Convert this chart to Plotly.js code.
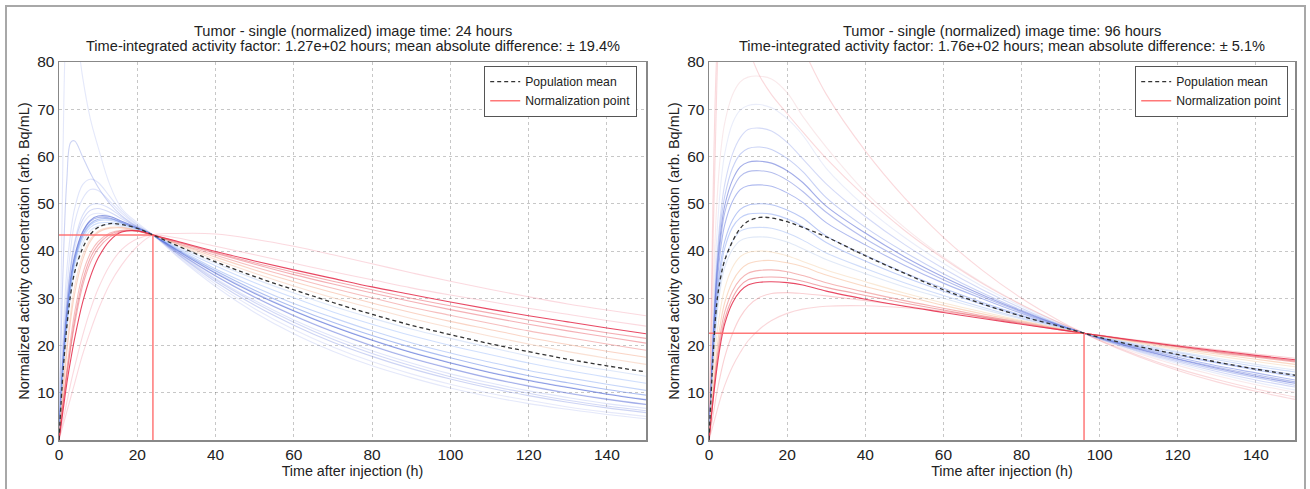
<!DOCTYPE html>
<html><head><meta charset="utf-8">
<script src="https://cdn.plot.ly/plotly-3.0.1.min.js"></script>
<style>html,body{margin:0;padding:0;background:#fff}#chart{width:1310px;height:489px}</style>
</head><body><div id="chart"></div>
<script>
// ---------- time grids (h) ----------
const tLeft  = [0,1,2,3,4,6,8,10,13,16,20,24,30,40,50,60,70,80,90,100,110,120,130,140,150];
const tRight = [0,1,2,3,4,6,8,10,13,16,20,24,30,40,50,60,70,80,90,96,100,110,120,130,140,150];

// ---------- normalization points ----------
const normTime  = [24, 96];
const normValue = [43.4, 22.6];

// ---------- population means ----------
const leftMean  = [0,14,24,31,35.5,40.5,43.5,45,45.8,45.6,44.8,43.4,41.2,37.7,34.6,31.8,29.1,26.6,24.3,22.3,20.4,18.7,17.1,15.7,14.4];
const rightMean = [0,17,29,34.5,38,42,44.8,46.3,47.1,47,46.2,45,43,39,35.3,31.8,28.8,26.2,24,22.6,21.7,19.8,18.1,16.5,15,13.7];

// ---------- left panel curves (image at 24 h) ----------
const L01 = [0,60,90,95,90,77,68,62,54,49,46,43.4,39,32.5,27,22.5,18.8,15.7,13.2,11,9.2,7.7,6.5,5.4,4.5];
const L02 = [0,35,55,63,63.3,60,56.5,53.5,50,47.5,45.2,43.4,39.5,33.5,28.5,24.3,20.7,17.7,15.1,12.9,11,9.4,8,6.8,5.8];
const L03 = [0,22,36,44,49,54,55.2,54.5,51.5,48.5,45.6,43.4,39.8,34.2,29.5,25.4,21.9,18.9,16.3,14,12.1,10.4,9,7.7,6.7];
const L04 = [0,19,32,40.5,46,51,53,52.8,50.5,48,45.4,43.4,40,34.8,30.3,26.4,23,20,17.4,15.2,13.2,11.5,10,8.7,7.6];
const L05 = [0,17,29,37,42,47.5,49.7,50,49,47.2,45,43.4,40.3,35.5,31.2,27.4,24.1,21.2,18.6,16.4,14.4,12.7,11.2,9.8,8.6];
const L06 = [0,16,27,34.5,39,44,46.5,47.4,47.3,46.3,44.9,43.4,40.2,35.3,31,27.3,24,21.1,18.5,16.3,14.3,12.6,11.1,9.7,8.5];
const L07 = [0,15,26,33.5,38.5,43.8,46.3,47.1,47,46.1,44.8,43.4,39.9,34.7,30.2,26.3,22.9,19.9,17.3,15.1,13.1,11.4,9.9,8.6,7.5];
const L08 = [0,15,25.5,33,38,43.3,45.8,46.7,46.8,46,44.7,43.4,40.4,35.8,31.7,28.1,24.9,22.1,19.6,17.4,15.4,13.6,12.1,10.7,9.5];
const L09 = [0,15,25,32.5,37.5,43,45.5,46.4,46.5,45.8,44.6,43.4,40.6,36.2,32.4,28.9,25.9,23.1,20.6,18.4,16.5,14.7,13.2,11.8,10.5];
const L10 = [0,14.5,24.5,32,37,42.5,45,45.9,46,45.5,44.5,43.4,40.8,36.9,33.3,30.1,27.1,24.5,22.1,20,18.1,16.3,14.7,13.3,12];
const L11 = [0,13.5,23,30.5,35.5,41.5,44.3,45.3,45.6,45.2,44.4,43.4,41.1,37.4,34.1,31.1,28.3,25.8,23.5,21.5,19.6,17.8,16.2,14.8,13.5];
const L12 = [0,11,20,27,32.5,39,42.5,44.2,45,45,44.3,43.4,41.4,38.2,35.3,32.6,30.1,27.9,25.7,23.8,22,20.3,18.7,17.3,16];
const L13 = [0,10,18.5,25.5,31,38,42,43.9,44.8,44.9,44.3,43.4,41.6,38.7,36,33.5,31.2,29,27,25.1,23.4,21.7,20.2,18.8,17.5];
const L14 = [0,8,15,21.5,27,35,39.5,42,43.8,44.4,44.2,43.4,41.7,39.1,36.6,34.3,32.1,30.1,28.1,26.4,24.7,23.1,21.7,20.3,19];
const L15 = [0,7,13.5,19.5,24.5,32.5,37.5,40.5,43,44.1,44.2,43.4,41.9,39.5,37.2,35,33,31.1,29.3,27.6,26,24.5,23.1,21.8,20.5];
const L16 = [0,6,12,17,21.5,29,34.5,38.5,42.2,44,44.3,43.4,42.1,39.9,37.9,36,34.2,32.4,30.8,29.2,27.7,26.3,25,23.7,22.5];
const L17 = [0,3,6,9,12,18,23,27.5,33,37,41,43.4,43.7,43.6,42.5,41,39.2,37.3,35.4,33.6,31.9,30.3,28.8,27.5,26.3];
const L18 = [0,4,8,12,15.5,22,27.5,32,37,40.3,42.6,43.4,42.8,41,39.2,37.4,35.6,33.9,32.2,30.7,29.3,27.9,26.6,25.3,24.1];
const L19 = [0,7.5,14,20,25.5,33.5,38.5,41.3,43.5,44.3,44.2,43.4,42,39.7,37.5,35.5,33.6,31.8,30,28.4,26.9,25.4,24,22.7,21.5];
const L20 = [0,17,28.5,36,40.5,45.5,47.6,48,47.4,46.3,44.9,43.4,39.2,33,27.8,23.4,19.7,16.6,14,11.8,9.9,8.4,7,5.9,5];
const L21 = [0,17.5,29,36.5,41.5,46.5,48.6,49,48.2,46.8,45.1,43.4,39.6,33.9,29.1,24.9,21.3,18.3,15.7,13.4,11.5,9.9,8.4,7.2,6.2];

// ---------- right panel curves (image at 96 h) ----------
const R01 = [0,30,50,61,67,73,75.8,76.8,77,76.4,73.5,68.5,62,52.5,45,38.7,33.3,28.7,24.7,22.6,21.3,18.3,15.8,13.6,11.7,10.1];
const R02 = [0,25,43,54,60.5,67,69.8,70.8,71,70.3,68,64.5,57.5,49.4,42.9,37.4,32.5,28.3,24.6,22.6,21.4,18.6,16.2,14.1,12.2,10.6];
const R03 = [0,22,38,48,54,60.5,64,65.7,66,65.4,63,59.5,54.2,47.3,41.4,36.3,31.8,27.9,24.4,22.6,21.4,18.8,16.5,14.5,12.7,11.2];
const R04 = [0,21,36.5,46,51.5,57.5,60.5,61.7,62,61.5,59.6,56.8,51.3,45,39.8,35.2,31.1,27.5,24.3,22.6,21.5,19,16.8,14.9,13.2,11.6];
const R05 = [0,20,35,44,49.5,55,57.8,58.8,59,58.6,57,54.5,49.5,43.8,38.8,34.5,30.7,27.3,24.2,22.6,21.6,19.2,17.1,15.2,13.5,12];
const R06 = [0,19.5,34,42.5,48,53,55.8,56.8,57,56.6,55,52.6,48.2,42.6,38,33.9,30.3,27.1,24.2,22.6,21.6,19.3,17.2,15.4,13.8,12.3];
const R07 = [0,18,32,40.5,45.5,50.5,53,53.8,54,53.7,52.3,50.3,46,41.3,37,33.2,29.9,26.8,24.1,22.6,21.7,19.5,17.5,15.7,14.2,12.7];
const R08 = [0,17,30,37.5,42,46.5,48.8,49.7,50,49.8,48.7,47,43.2,39.1,35.4,32.1,29.1,26.4,24,22.6,21.7,19.7,17.9,16.3,14.8,13.4];
const R09 = [0,16.5,29,36,40.5,45,47,47.8,48,47.8,46.8,45.2,41.8,37.9,34.5,31.5,28.7,26.2,23.9,22.6,21.8,19.9,18.1,16.5,15.1,13.8];
const R10 = [0,15.5,27,34,38,42,44.2,44.8,45,44.8,43.8,42.3,39.6,36.3,33.3,30.6,28.1,25.8,23.8,22.6,21.9,20.1,18.5,17,15.6,14.4];
const R11 = [0,15,26,32.5,36.5,40.3,42.2,42.8,43,42.8,41.9,40.5,38.2,35.2,32.4,30,27.7,25.6,23.7,22.6,21.9,20.3,18.7,17.3,16,14.8];
const R12 = [0,13,22,28,32,36.5,38.8,39.7,40,39.8,39,37.8,36,33.5,31.1,29,27.1,25.3,23.6,22.6,22,20.5,19.1,17.8,16.6,15.5];
const R13 = [0,10,19,25,29,33.5,36,37.3,37.9,38,37.5,36.7,34.9,32.5,30.5,28.5,26.7,25.1,23.5,22.6,22,20.7,19.4,18.2,17.1,16];
const R14 = [0,9,17,23,27,31.5,34,35.3,35.9,36,35.6,34.8,33.3,31.3,29.5,27.9,26.3,24.8,23.4,22.6,22.1,20.8,19.7,18.5,17.5,16.5];
const R15 = [0,8.5,16,21.5,25.5,30,32.6,33.9,34.4,34.5,34.3,33.6,32.3,30.6,29,27.5,26,24.6,23.3,22.6,22.1,20.9,19.8,18.7,17.7,16.7];
const R16 = [0,8,15,20.5,24.5,29,31.5,32.8,33.4,33.5,33.3,32.8,31.5,29.8,28.3,27,25.7,24.5,23.3,22.6,22.1,21,19.9,18.9,17.9,17];
const R17 = [0,3,6,9,11.5,15.5,18.5,21,23.5,25.3,26.8,27.7,28.3,28.4,28,27.2,26.2,25,23.5,22.6,22.1,20.9,19.8,18.7,17.7,16.8];
const R18 = [0,5,10,14,17.5,22.5,26,28.3,30.2,31,31.2,31,30.5,29.5,28.4,27.2,26,24.7,23.4,22.6,22.2,21.1,20.1,19.1,18.2,17.3];
const R19 = [0,50,82,93,96,93,88,83,77,73.1,69.1,65.2,59.6,51.5,44.4,38.4,33.1,28.6,24.7,22.6,21.1,17.9,15.1,12.8,10.8,9.1];
const R20 = [0,40,75,98,112,122,120,115,106,98,90,83,73.2,61.2,51.3,42.9,35.9,30,25.1,22.6,21,17.6,14.7,12.3,10.3,8.6];

// ---------- text ----------
const titleLeft  = ["Tumor - single (normalized) image time: 24 hours",
                    "Time-integrated activity factor: 1.27e+02 hours; mean absolute difference: ± 19.4%"];
const titleRight = ["Tumor - single (normalized) image time: 96 hours",
                    "Time-integrated activity factor: 1.76e+02 hours; mean absolute difference: ± 5.1%"];
const xTitle = "Time after injection (h)";
const yTitle = "Normalized activity concentration (arb. Bq/mL)";
const legendMean = "Population mean";
const legendNorm = "Normalization point";

// ---------- styles ----------
const leftCurves = [L01,L02,L03,L04,L05,L20,L21,L17,L18,L06,L07,L08,L09,L10,L11,L12,L13,L14,L15,L19,L16];
const leftColors = [
  'rgba(120,140,230,0.20)','rgba(100,120,220,0.32)','rgba(130,150,235,0.25)','rgba(130,150,235,0.25)',
  'rgba(120,145,235,0.28)','rgba(140,155,230,0.22)','rgba(110,130,225,0.30)','rgba(240,120,140,0.28)',
  'rgba(240,120,140,0.28)','rgba(60,85,205,0.55)','rgba(80,100,210,0.45)','rgba(70,110,225,0.45)',
  'rgba(110,150,240,0.40)','rgba(150,185,250,0.45)','rgba(190,210,245,0.50)','rgba(245,195,170,0.50)',
  'rgba(245,170,140,0.50)','rgba(235,110,110,0.45)','rgba(230,80,90,0.45)','rgba(230,70,85,0.45)',
  'rgba(228,40,72,0.85)'];
const rightCurves = [R01,R02,R19,R20,R17,R18,R03,R04,R05,R06,R07,R08,R09,R10,R11,R12,R13,R14,R15,R16];
const rightColors = [
  'rgba(240,200,205,0.40)','rgba(190,200,240,0.32)','rgba(240,130,140,0.30)','rgba(240,130,140,0.30)',
  'rgba(240,130,140,0.32)','rgba(240,120,130,0.35)','rgba(120,140,230,0.32)','rgba(110,135,230,0.38)',
  'rgba(70,90,210,0.50)','rgba(90,110,215,0.45)','rgba(80,105,220,0.45)','rgba(100,130,230,0.45)',
  'rgba(120,150,240,0.45)','rgba(150,180,245,0.45)','rgba(200,215,240,0.55)','rgba(245,215,180,0.55)',
  'rgba(245,185,150,0.55)','rgba(235,110,110,0.50)','rgba(230,80,90,0.50)','rgba(228,40,72,0.85)'];

const FONT = 'Liberation Sans, Arial, sans-serif';
const TXT = '#222';
const traces = [];
function addPanel(t, curves, colors, mean, nt, nv, xa, ya, leg) {
  curves.forEach((c, i) => {
    traces.push({x: t, y: c, xaxis: xa, yaxis: ya, type: 'scatter', mode: 'lines',
      line: {color: colors[i], width: 1.1, shape: 'spline', smoothing: 1},
      showlegend: false, hoverinfo: 'skip'});
  });
  traces.push({x: [0, nt, nt], y: [nv, nv, 0], xaxis: xa, yaxis: ya, type: 'scatter', mode: 'lines',
    name: legendNorm, legend: leg, legendrank: 2,
    line: {color: 'rgba(255,105,105,0.9)', width: 1.5}, hoverinfo: 'skip'});
  traces.push({x: t, y: mean, xaxis: xa, yaxis: ya, type: 'scatter', mode: 'lines',
    name: legendMean, legend: leg, legendrank: 1,
    line: {color: '#333', width: 1.3, dash: '4px,3px', shape: 'spline'}, hoverinfo: 'skip'});
}
addPanel(tLeft, leftCurves, leftColors, leftMean, normTime[0], normValue[0], 'x', 'y', 'legend');
addPanel(tRight, rightCurves, rightColors, rightMean, normTime[1], normValue[1], 'x2', 'y2', 'legend2');

const W = 1310, H = 489;
const xl = [59/W, 646/W], xr = [709/W, 1295/W], yd = [49/H, 427/H];
function xaxis(dom, anchor) {
  return {domain: dom, anchor: anchor, range: [0, 150], dtick: 20, tick0: 0,
    showline: true, mirror: true, linecolor: '#888', linewidth: 1.5,
    showgrid: true, gridcolor: 'rgba(0,0,0,0.22)', griddash: 'dot', gridwidth: 1,
    zeroline: false, ticks: '', automargin: false,
    tickfont: {family: FONT, size: 15.5, color: TXT},
    title: {text: xTitle, font: {family: FONT, size: 14.3, color: TXT}, standoff: 2}};
}
function yaxis(anchor) {
  return {domain: yd, anchor: anchor, range: [0, 80], dtick: 10, tick0: 0,
    showline: true, mirror: true, linecolor: '#888', linewidth: 1.5,
    showgrid: true, gridcolor: 'rgba(0,0,0,0.22)', griddash: 'dot', gridwidth: 1,
    zeroline: false, ticks: '', automargin: false,
    tickfont: {family: FONT, size: 15.5, color: TXT},
    title: {text: yTitle, font: {family: FONT, size: 14.5, color: TXT}, standoff: 4}};
}
function legendAt(xRight) {
  return {x: xRight, xanchor: 'right', y: (H - 66) / H, yanchor: 'top',
    bgcolor: '#fff', bordercolor: '#555', borderwidth: 1.2,
    font: {family: FONT, size: 12.2, color: TXT}, tracegroupgap: 0, itemwidth: 30};
}
function titleAnn(text, xc, ypx) {
  return {text: text, xref: 'paper', yref: 'paper', x: xc, y: (H - ypx) / H,
    xanchor: 'center', yanchor: 'middle', showarrow: false,
    font: {family: FONT, size: 14.6, color: TXT}};
}
const xcL = (xl[0] + xl[1]) / 2, xcR = (xr[0] + xr[1]) / 2;
const layout = {
  width: W, height: H, margin: {l: 0, r: 0, t: 0, b: 0},
  paper_bgcolor: '#fff', plot_bgcolor: '#fff', showlegend: true,
  font: {family: FONT},
  xaxis: xaxis(xl, 'y'), yaxis: yaxis('x'),
  xaxis2: xaxis(xr, 'y2'), yaxis2: yaxis('x2'),
  legend: legendAt(637/W), legend2: legendAt(1288/W),
  annotations: [
    titleAnn(titleLeft[0], xcL, 31), titleAnn(titleLeft[1], xcL, 46),
    titleAnn(titleRight[0], xcR, 31), titleAnn(titleRight[1], xcR, 46)
  ],
  shapes: [
    {type: 'rect', xref: 'paper', yref: 'paper', x0: 6/W, x1: 1305/W, y0: -0.05, y1: (H - 6) / H,
     line: {color: '#a8a8a8', width: 2}, fillcolor: 'rgba(0,0,0,0)', layer: 'below'}
  ]
};
Plotly.newPlot('chart', traces, layout, {displayModeBar: false, staticPlot: true});
</script></body></html>
